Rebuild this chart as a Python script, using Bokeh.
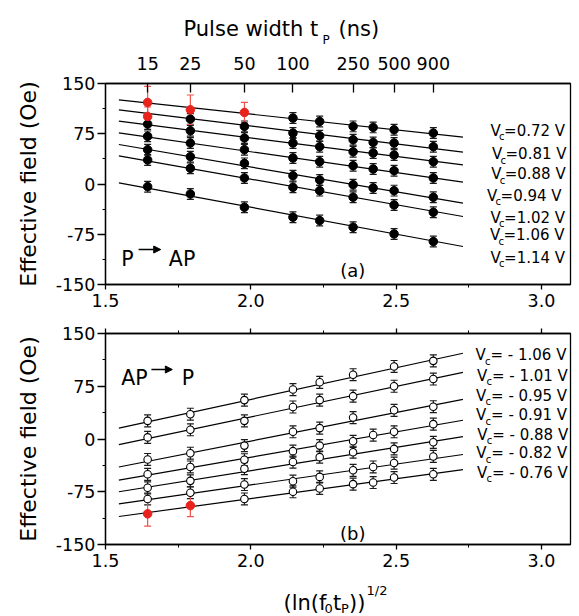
from bokeh.plotting import figure
from bokeh.layouts import column
from bokeh.models import (LinearAxis, FixedTicker, SingleIntervalTicker, Range1d, Label,
                          Arrow, NormalHead, Whisker, TeeHead, ColumnDataSource,
                          PrintfTickFormatter, CustomJSTickFormatter)
from bokeh.core.properties import value
from bokeh.embed import file_html
from bokeh.resources import INLINE

FONT = "DejaVu Sans"
W = 579
FRAME_L, FRAME_R = 105, 570

# ---------------- data ----------------
# x positions of pulse widths, (ln(f0 tP))^1/2
x_cols = [1.645, 1.792, 1.978, 2.145, 2.237, 2.352, 2.421, 2.493, 2.628]
top_tick_x = [1.645, 1.792, 1.978, 2.145, 2.352, 2.493, 2.628]
top_tick_labels = ["15", "25", "50", "100", "250", "500", "900"]

# panel (a) P -> AP
top_vc = ["0.72", "0.81", "0.88", "0.94", "1.02", "1.06", "1.14"]
top_072 = [121.7, 110.8, 106.8, 98.4, 93.4, 86.0, 84.5, 81.0, 76.0]
top_081 = [100.9, 96.9, 86.0, 76.0, 72.0, 66.1, 62.1, 61.1, 55.7]
top_088 = [89.4, 79.5, 68.6, 61.1, 55.7, 48.2, 46.2, 43.2, 33.3]
top_094 = [71.1, 61.1, 51.2, 38.8, 33.3, 27.3, 22.4, 19.9, 9.0]
top_102 = [51.2, 40.8, 30.8, 12.4, 6.0, -1.0, -5.9, -9.9, -19.8]
top_106 = [35.8, 23.4, 9.0, -5.0, -9.9, -19.8, None, -31.3, -42.2]
top_114 = [-4.0, -14.9, -34.7, -49.6, -54.6, -64.5, None, -74.5, -85.9]
top_series = [top_072, top_081, top_088, top_094, top_102, top_106, top_114]
top_err = 8.0
# red points: (series index, column index, error)
top_red = [(0, 0, 24.0), (0, 1, 22.0), (0, 2, 15.0), (1, 0, 14.0)]
# fitted lines, value at start and end
fit_x = [1.546, 2.730]
top_fit_start = [125.6, 110.7, 93.8, 76.4, 59.0, 42.0, 1.7]
top_fit_end = [69.9, 47.5, 28.6, 2.7, -28.6, -48.5, -93.3]

# panel (b) AP -> P
bot_vc = ["1.06", "1.01", "0.95", "0.91", "0.88", "0.82", "0.76"]
bot_106 = [25.8, 35.2, 55.3, 70.3, 80.6, 91.4, None, 103.1, 111.1]
bot_101 = [2.3, 13.1, 25.8, 45.5, 55.3, 60.9, None, 75.0, 85.3]
bot_095 = [-29.1, -20.2, -9.4, 10.3, 15.5, 30.5, None, 40.8, 45.9]
bot_091 = [-50.2, -39.8, -29.5, -17.3, -9.4, -3.3, 5.6, 10.3, 21.1]
bot_088 = [-69.4, -59.5, -42.2, -32.8, -25.8, -18.8, None, -14.1, -4.7]
bot_082 = [-85.3, -76.4, -64.7, -60.0, -53.9, -44.5, -39.8, -34.2, -24.8]
bot_076 = [-106.4, -94.7, -85.3, -75.0, -70.3, -64.2, -61.9, -54.8, -50.2]
bot_series = [bot_106, bot_101, bot_095, bot_091, bot_088, bot_082, bot_076]
bot_err = 8.5
bot_red = [(6, 0, 17.6), (6, 1, 15.6)]
bot_fit_start = [15.5, -8.0, -39.8, -58.6, -75.0, -92.3, -110.2]
bot_fit_end = [121.9, 94.7, 56.3, 26.7, 3.3, -22.0, -43.6]

RED = "#e8231e"
RED_BAR = "#f0524e"


def make_fig(height, top, bottom):
    p = figure(width=W, height=height, x_range=Range1d(1.5, 3.1),
               y_range=Range1d(-150, 150), output_backend="svg",
               toolbar_location=None, min_border_left=FRAME_L, min_border_right=W - FRAME_R,
               min_border_top=top, min_border_bottom=bottom)
    p.grid.visible = False
    p.outline_line_color = "black"
    p.outline_line_width = 1.3
    p.background_fill_color = "white"
    for ax in p.xaxis:
        ax.ticker = SingleIntervalTicker(interval=0.5, num_minor_ticks=2)
        ax.formatter = PrintfTickFormatter(format="%.1f")
    for ax in p.yaxis:
        ax.ticker = SingleIntervalTicker(interval=75, num_minor_ticks=2)
        ax.formatter = PrintfTickFormatter(format="%d")
        ax.axis_label = "Effective field (Oe)"
        ax.axis_label_text_font = FONT
        ax.axis_label_text_font_size = "22px"
        ax.axis_label_text_font_style = "normal"
        ax.axis_label_text_color = "black"
        ax.axis_label_standoff = 12
        ax.major_tick_out = 8
        ax.major_label_standoff = 2
    for ax in list(p.xaxis) + list(p.yaxis):
        ax.axis_line_width = 1.3
        ax.major_tick_line_width = 1.3
        ax.minor_tick_line_width = 1.0
        ax.major_tick_in = 0
        ax.minor_tick_in = 0
        ax.minor_tick_out = 3
        ax.major_label_text_font = FONT
        ax.major_label_text_font_size = "17.5px"
        ax.major_label_text_color = "black"
    for ax in p.xaxis:
        ax.major_tick_out = 5
        ax.major_label_standoff = 4
    return p


def text_strip(height):
    # plots in a column share aligned frames, so the strip's frame spans FRAME_L..FRAME_R;
    # its x range is set so that x is the page pixel column
    p = figure(width=W, height=height, x_range=Range1d(FRAME_L, FRAME_R),
               y_range=Range1d(height, 0), output_backend="svg", toolbar_location=None,
               x_axis_type=None, y_axis_type=None, min_border_left=FRAME_L,
               min_border_right=W - FRAME_R, min_border_top=0, min_border_bottom=0)
    p.outline_line_color = None
    p.grid.visible = False
    return p


def strip_text(p, x, y, text, size):
    p.text(x=[x], y=[y], text=[text], text_font=value(FONT), text_font_size=value(size),
           text_color="black", text_baseline="alphabetic", text_align="left")


def draw_panel(p, series, err, red, fit_s, fit_e, open_marker):
    p.segment(x0=[fit_x[0]] * len(fit_s), y0=fit_s, x1=[fit_x[1]] * len(fit_e), y1=fit_e,
              line_color="black", line_width=1.2)
    red_set = {(s, c) for s, c, _ in red}
    bx, by = [], []
    for si, ser in enumerate(series):
        for ci, v in enumerate(ser):
            if v is None or (si, ci) in red_set:
                continue
            bx.append(x_cols[ci])
            by.append(v)
    src = ColumnDataSource(dict(x=bx, y=by, lo=[v - err for v in by], hi=[v + err for v in by]))
    p.add_layout(Whisker(base="x", lower="lo", upper="hi", source=src, line_color="#1a1a1a",
                         line_width=1.2,
                         lower_head=TeeHead(size=7, line_color="#1a1a1a", line_width=1.2),
                         upper_head=TeeHead(size=7, line_color="#1a1a1a", line_width=1.2)))
    rx = [x_cols[c] for s, c, e in red]
    ry = [series[s][c] for s, c, e in red]
    re = [e for s, c, e in red]
    rsrc = ColumnDataSource(dict(x=rx, y=ry, lo=[v - e for v, e in zip(ry, re)],
                                 hi=[v + e for v, e in zip(ry, re)]))
    p.add_layout(Whisker(base="x", lower="lo", upper="hi", source=rsrc, line_color=RED_BAR,
                         line_width=1.2,
                         lower_head=TeeHead(size=7, line_color=RED_BAR, line_width=1.2),
                         upper_head=TeeHead(size=7, line_color=RED_BAR, line_width=1.2)))
    if open_marker:
        p.scatter("x", "y", source=src, size=7.5, marker="circle", fill_color="white",
                  line_color="black", line_width=1.1)
    else:
        p.scatter("x", "y", source=src, size=8.5, marker="circle", fill_color="black",
                  line_color="black")
    p.scatter("x", "y", source=rsrc, size=8.5, marker="circle", fill_color=RED, line_color=RED)


def txt(p, x, y, text, size, x_offset=0, y_offset=0, align="left", baseline="alphabetic"):
    p.add_layout(Label(x=x, y=y, text=text, x_offset=x_offset, y_offset=y_offset,
                       text_font=FONT, text_font_size=size, text_color="black",
                       text_align=align, text_baseline=baseline))


# ---------------- title strip: Pulse width t_P (ns) ----------------
t_strip = text_strip(48)
strip_text(t_strip, 183, 28.5, "Pulse width t", "21px")
strip_text(t_strip, 322, 39, "P", "12px")
strip_text(t_strip, 338, 28.5, "(ns)", "21px")

# ---------------- panel (a) ----------------
p1 = make_fig(270, 35, 34)
top_ax = LinearAxis(ticker=FixedTicker(ticks=top_tick_x),
                    major_label_overrides={t: l for t, l in zip(top_tick_x, top_tick_labels)})
top_ax.major_tick_in = 9
top_ax.major_tick_out = 0
top_ax.minor_tick_in = 0
top_ax.minor_tick_out = 0
top_ax.axis_line_width = 1.3
top_ax.major_tick_line_width = 1.3
top_ax.major_label_standoff = 14
top_ax.major_label_text_font = FONT
top_ax.major_label_text_font_size = "17.5px"
top_ax.major_label_text_color = "black"
p1.add_layout(top_ax, "above")
draw_panel(p1, top_series, top_err, top_red, top_fit_start, top_fit_end, False)

top_lab_x = [2.825, 2.830, 2.827, 2.813, 2.825, 2.823, 2.825]
top_lab_y = [79.3, 44.5, 14.6, -17.8, -50.1, -76.4, -109.8]
for lx, ly, vc in zip(top_lab_x, top_lab_y, top_vc):
    txt(p1, lx, ly, "V", "15px")
    txt(p1, lx, ly, "c", "10px", x_offset=8.5, y_offset=-6)
    txt(p1, lx, ly, "=" + vc + " V", "15px", x_offset=13.5)

txt(p1, 1.554, -111.6, "P", "20.5px")
p1.add_layout(Arrow(x_start=1.614, y_start=-97.8, x_end=1.690, y_end=-97.8,
                    line_color="black", line_width=1.5,
                    end=NormalHead(size=7, fill_color="black", line_color="black", line_width=1)))
txt(p1, 1.718, -111.6, "AP", "20.5px")
txt(p1, 2.351, -129.1, "(a)", "18px", align="center")

# ---------------- panel (b) ----------------
p2 = make_fig(260, 15, 34)
mirror = LinearAxis(ticker=SingleIntervalTicker(interval=0.5, num_minor_ticks=2),
                    formatter=CustomJSTickFormatter(code="return ''"))
mirror.major_label_standoff = 0
mirror.major_tick_out = 5
mirror.major_tick_in = 0
mirror.minor_tick_out = 3
mirror.minor_tick_in = 0
mirror.axis_line_width = 1.3
mirror.major_tick_line_width = 1.3
p2.add_layout(mirror, "above")
draw_panel(p2, bot_series, bot_err, bot_red, bot_fit_start, bot_fit_end, True)

bot_lab_x = [2.773, 2.778, 2.775, 2.775, 2.779, 2.776, 2.778]
bot_lab_y = [119.1, 89.7, 61.3, 33.8, 5.8, -20.2, -47.8]
for lx, ly, vc in zip(bot_lab_x, bot_lab_y, bot_vc):
    txt(p2, lx, ly, "V", "15px")
    txt(p2, lx, ly, "c", "10px", x_offset=9.5, y_offset=-6)
    txt(p2, lx, ly, "= - " + vc + " V", "15px", x_offset=15)

txt(p2, 1.554, 86.4, "AP", "20.5px")
p2.add_layout(Arrow(x_start=1.658, y_start=98.8, x_end=1.730, y_end=98.8,
                    line_color="black", line_width=1.5,
                    end=NormalHead(size=7, fill_color="black", line_color="black", line_width=1)))
txt(p2, 1.762, 86.4, "P", "20.5px")
txt(p2, 2.351, -134.8, "(b)", "18px", align="center")

# ---------------- x axis title strip: (ln(f0 tP))^1/2 ----------------
x_strip = text_strip(38)
strip_text(x_strip, 283, 24, "(ln(f", "21px")
strip_text(x_strip, 324, 29.5, "0", "13px")
strip_text(x_strip, 332.5, 24, "t", "21px")
strip_text(x_strip, 340.5, 29.5, "P", "13px")
strip_text(x_strip, 348.5, 24, "))", "21px")
strip_text(x_strip, 366, 12, "1/2", "13px")

layout = column(t_strip, p1, p2, x_strip)
open("out.html", "w").write(file_html(layout, INLINE))
